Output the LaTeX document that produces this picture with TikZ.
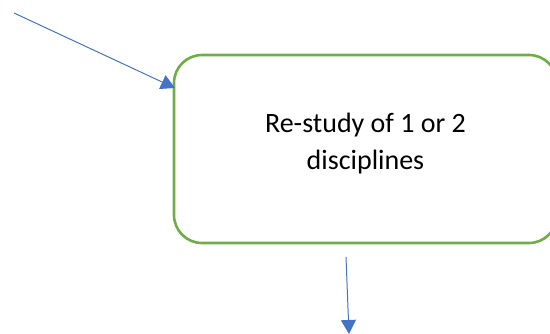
\documentclass[tikz,border=0pt]{standalone}
\usepackage{fontspec}
\setmainfont{Carlito}
\usepackage{xcolor}
\usetikzlibrary{arrows.meta, positioning, calc}
\definecolor{boxgreen}{HTML}{70AD47}
\definecolor{linkblue}{HTML}{4472C4}
\tikzset{
    stagebox/.style={
        rectangle,
        rounded corners=28pt,
        draw=boxgreen,
        line width=2.6pt,
        fill=white,
        align=center,
        text depth=16pt,
        minimum width=383pt,
        minimum height=188pt,
        font=\fontsize{28}{37}\selectfont,
    },
    link/.style={
        draw=linkblue,
        line width=1pt,
        -{Triangle[length=14pt,width=15pt]},
    },
}
\begin{document}
\begin{tikzpicture}[x=1pt, y=-1pt]
      \useasboundingbox (0,0) rectangle (550,334);

      \node[stagebox] (restudy) at (365.5,149) {Re-study of 1 or 2\\disciplines};

      \coordinate (from) at (14,13);
      \coordinate (into) at (175,88);
      \coordinate (outof) at (346,257);
      \coordinate (onward) at (349,334);

      \draw[link] (from) -- (into);
      \draw[link] (outof) -- (onward);
    \end{tikzpicture}
\end{document}
